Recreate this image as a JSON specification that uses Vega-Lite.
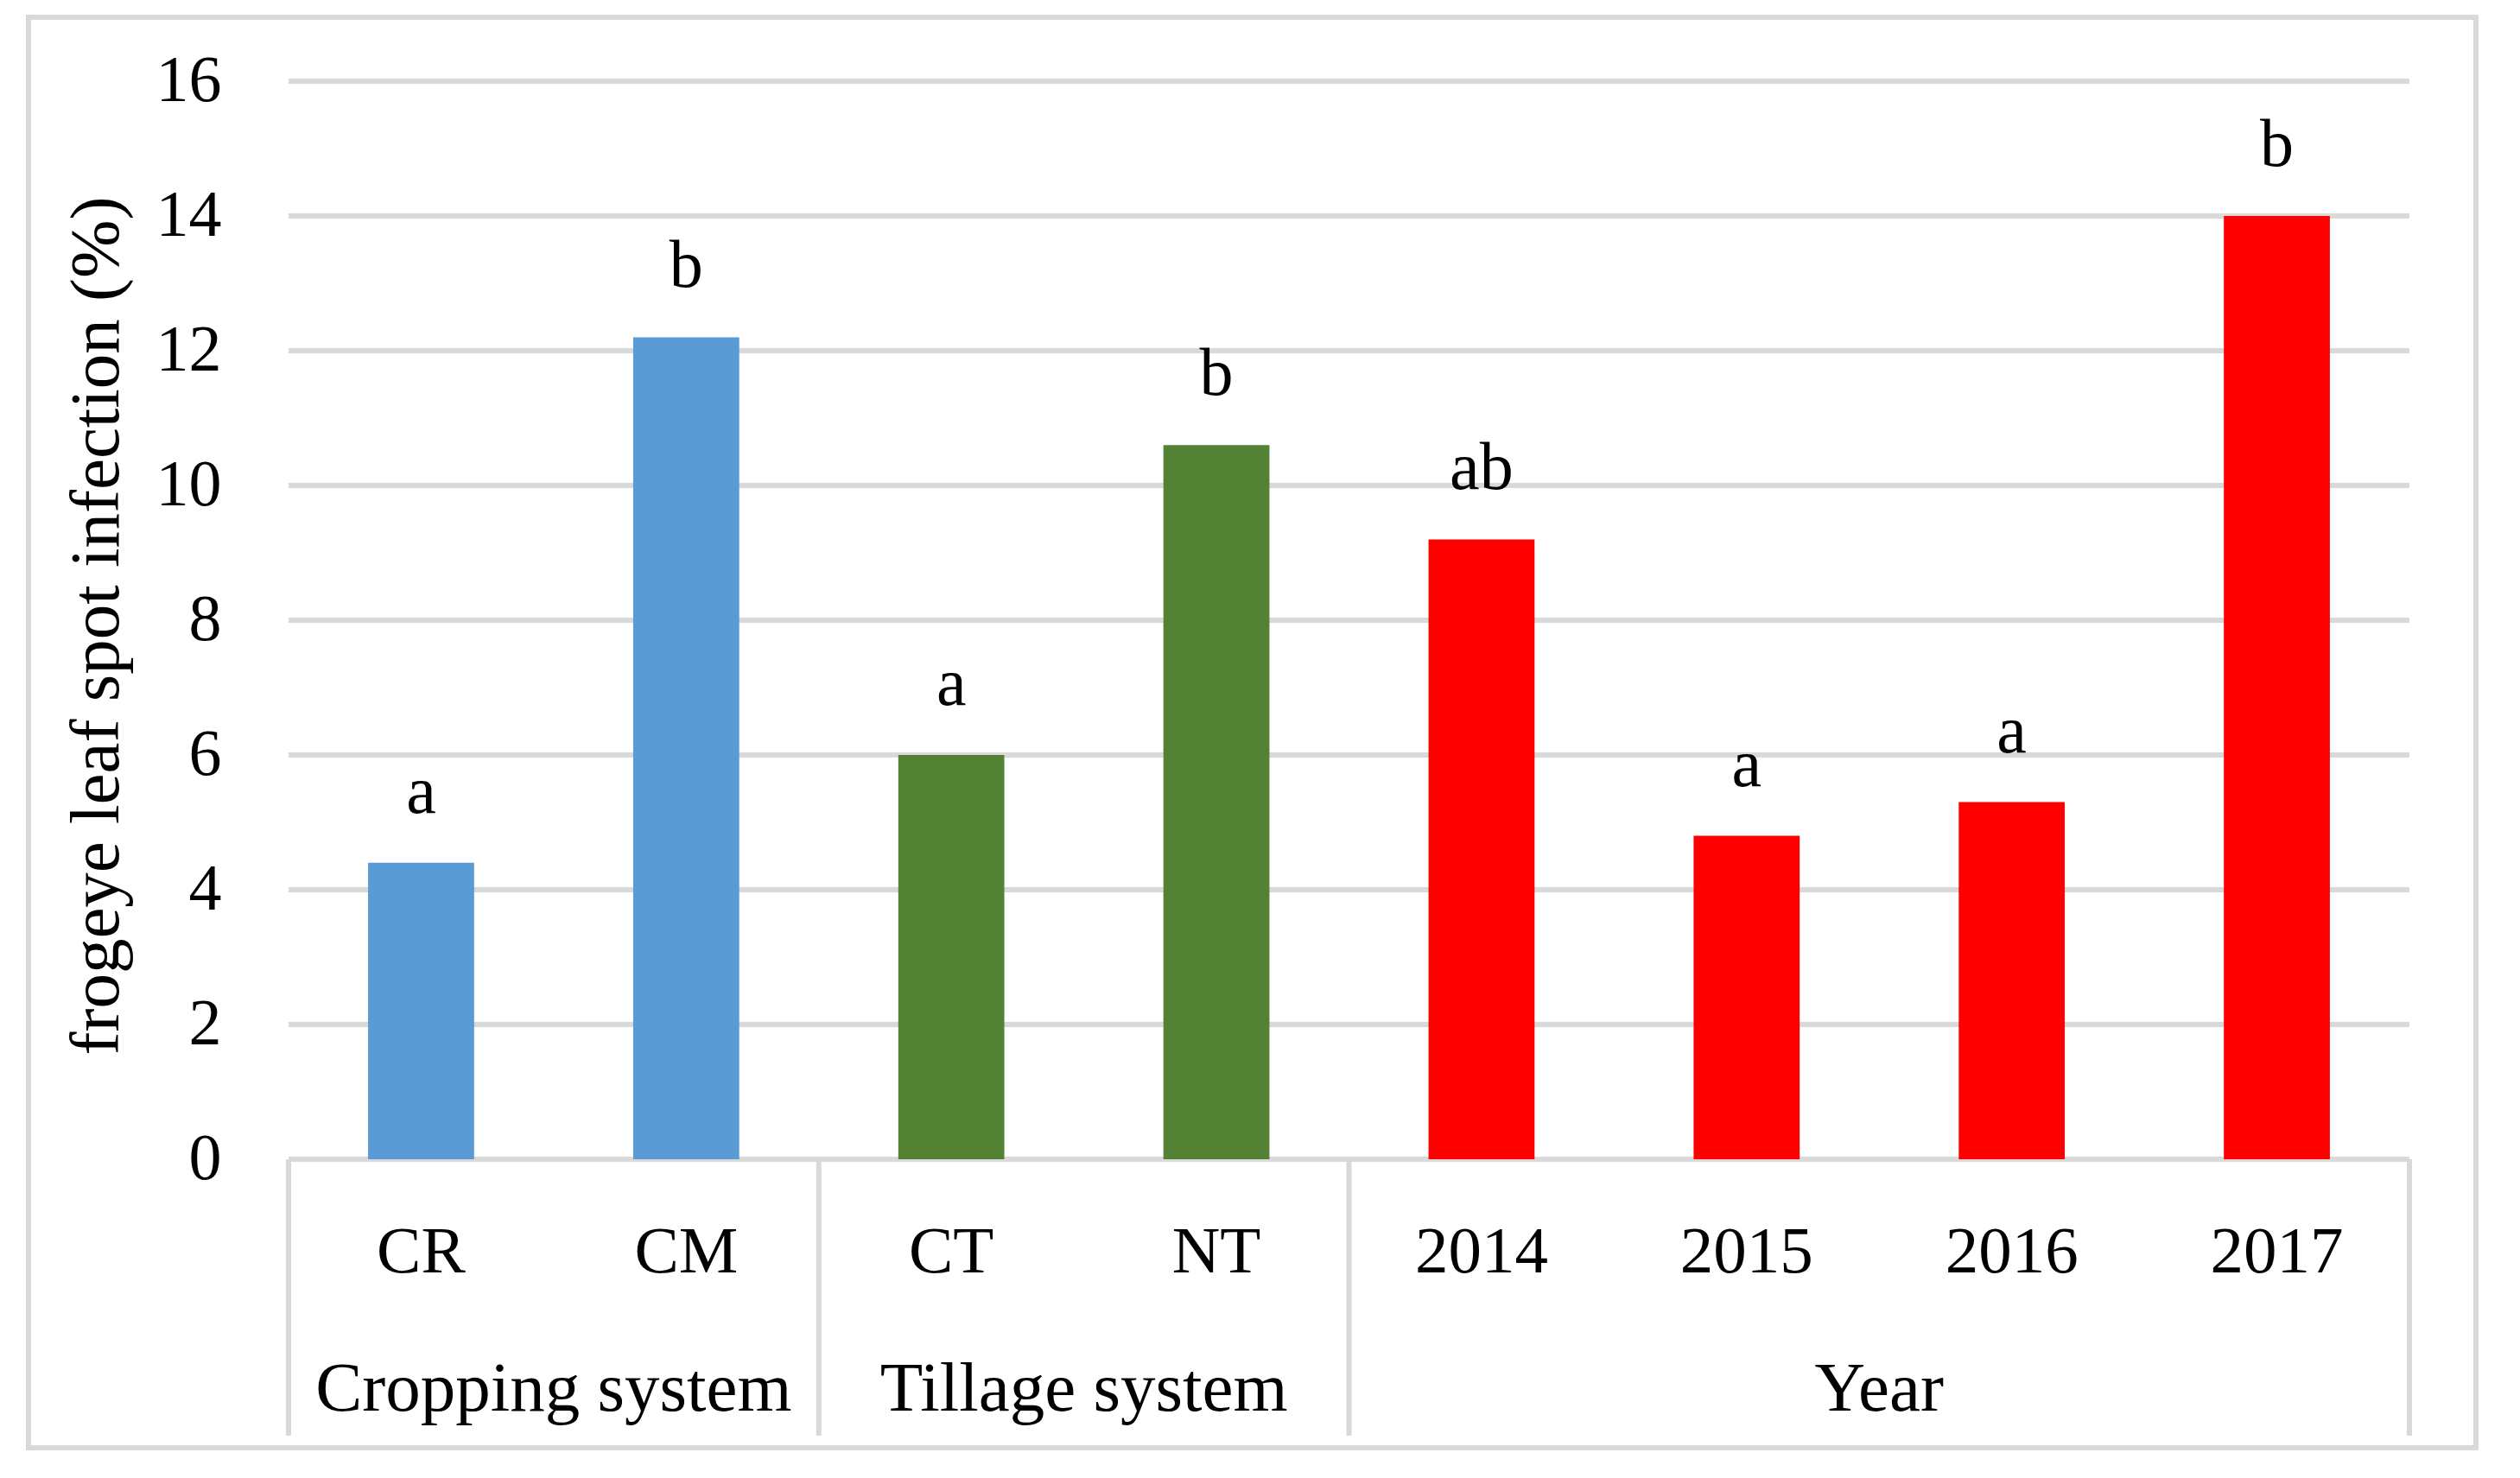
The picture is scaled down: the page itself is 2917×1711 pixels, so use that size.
{
  "$schema": "https://vega.github.io/schema/vega-lite/v6.json",
  "width": 2833,
  "height": 1656,
  "autosize": {"type": "none"},
  "padding": {"left": 33, "top": 20, "right": 51, "bottom": 35},
  "background": "white",
  "config": {
    "view": {"stroke": "#D9D9D9", "strokeWidth": 6},
    "font": "Liberation Serif",
    "text": {"font": "Liberation Serif", "fontSize": 76, "color": "black"}
  },
  "datasets": {
    "bars": [
      {"cat": "CR", "group": "Cropping system", "value": 4.4, "letter": "a"},
      {"cat": "CM", "group": "Cropping system", "value": 12.2, "letter": "b"},
      {"cat": "CT", "group": "Tillage system", "value": 6.0, "letter": "a"},
      {"cat": "NT", "group": "Tillage system", "value": 10.6, "letter": "b"},
      {"cat": "2014", "group": "Year", "value": 9.2, "letter": "ab"},
      {"cat": "2015", "group": "Year", "value": 4.8, "letter": "a"},
      {"cat": "2016", "group": "Year", "value": 5.3, "letter": "a"},
      {"cat": "2017", "group": "Year", "value": 14.0, "letter": "b"}
    ],
    "groups": [
      {"group": "Cropping system", "first": "CR", "anchor": "CM", "last": "CM"},
      {"group": "Tillage system", "first": "CT", "anchor": "NT", "last": "NT"},
      {"group": "Year", "first": "2014", "anchor": "2016", "last": "2017"}
    ],
    "grid": [
      {"tick": 0}, {"tick": 2}, {"tick": 4}, {"tick": 6}, {"tick": 8},
      {"tick": 10}, {"tick": 12}, {"tick": 14}, {"tick": 16}
    ]
  },
  "layer": [
    {
      "data": {"name": "grid"},
      "mark": {"type": "rule", "color": "#D9D9D9", "strokeWidth": 6},
      "encoding": {
        "x": {"datum": 0, "type": "quantitative", "scale": {"domain": [-0.98086, 8.25092], "nice": false, "zero": false}, "axis": null},
        "x2": {"datum": 8},
        "y": {
          "field": "tick", "type": "quantitative",
          "scale": {"domain": [-4.2821, 16.9487], "nice": false, "zero": false},
          "axis": {
            "orient": "left", "offset": -223, "domain": false, "ticks": false, "grid": false,
            "values": [0, 2, 4, 6, 8, 10, 12, 14, 16],
            "labelPadding": 0, "labelFont": "Liberation Serif", "labelFontSize": 76, "labelColor": "black",
            "labelAlign": "right", "labelBaseline": "middle", "labelOverlap": false, "labelBound": false, "labelFlush": false,
            "title": "frogeye leaf spot infection (%)",
            "titleFont": "Liberation Serif", "titleFontSize": 81, "titleFontWeight": "normal", "titleColor": "black",
            "titleAngle": -90, "titleAlign": "center", "titleBaseline": "alphabetic",
            "titleX": -120, "titleY": 704
          }
        }
      }
    },
    {
      "data": {"name": "bars"},
      "mark": {"type": "bar"},
      "encoding": {
        "x": {"field": "cat", "type": "nominal", "scale": {"type": "band", "domain": ["CR", "CM", "CT", "NT", "2014", "2015", "2016", "2017"], "paddingInner": 0.6, "paddingOuter": 0.9159, "align": 0.69924}, "axis": null},
        "y": {"field": "value", "type": "quantitative", "scale": {"domain": [-4.2821, 16.9487], "nice": false, "zero": false}, "axis": null},
        "y2": {"datum": 0},
        "color": {"field": "group", "type": "nominal", "scale": {"domain": ["Cropping system", "Tillage system", "Year"], "range": ["#5B9BD5", "#548235", "#FF0000"]}, "legend": null}
      }
    },
    {
      "data": {"name": "groups"},
      "mark": {"type": "rule", "color": "#D9D9D9", "strokeWidth": 6},
      "encoding": {
        "x": {"field": "first", "type": "nominal", "bandPosition": -0.75, "scale": {"type": "band", "domain": ["CR", "CM", "CT", "NT", "2014", "2015", "2016", "2017"], "paddingInner": 0.6, "paddingOuter": 0.9159, "align": 0.69924}, "axis": null},
        "y": {"datum": 0, "type": "quantitative", "scale": {"domain": [-4.2821, 16.9487], "nice": false, "zero": false}, "axis": null},
        "y2": {"datum": -4.1026}
      }
    },
    {
      "data": {"name": "groups"},
      "transform": [{"filter": "datum.group === 'Year'"}],
      "mark": {"type": "rule", "color": "#D9D9D9", "strokeWidth": 6},
      "encoding": {
        "x": {"field": "last", "type": "nominal", "bandPosition": 1.75, "scale": {"type": "band", "domain": ["CR", "CM", "CT", "NT", "2014", "2015", "2016", "2017"], "paddingInner": 0.6, "paddingOuter": 0.9159, "align": 0.69924}, "axis": null},
        "y": {"datum": 0, "type": "quantitative", "scale": {"domain": [-4.2821, 16.9487], "nice": false, "zero": false}, "axis": null},
        "y2": {"datum": -4.1026}
      }
    },
    {
      "data": {"name": "bars"},
      "mark": {"type": "text", "baseline": "alphabetic", "align": "center", "dy": -58, "fontSize": 78, "font": "Liberation Serif", "color": "black"},
      "encoding": {
        "x": {"field": "cat", "type": "nominal", "scale": {"type": "band", "domain": ["CR", "CM", "CT", "NT", "2014", "2015", "2016", "2017"], "paddingInner": 0.6, "paddingOuter": 0.9159, "align": 0.69924}, "axis": null},
        "y": {"field": "value", "type": "quantitative", "scale": {"domain": [-4.2821, 16.9487], "nice": false, "zero": false}, "axis": null},
        "text": {"field": "letter"}
      }
    },
    {
      "data": {"name": "bars"},
      "mark": {"type": "text", "baseline": "alphabetic", "align": "center", "fontSize": 77, "font": "Liberation Serif", "color": "black"},
      "encoding": {
        "x": {"field": "cat", "type": "nominal", "scale": {"type": "band", "domain": ["CR", "CM", "CT", "NT", "2014", "2015", "2016", "2017"], "paddingInner": 0.6, "paddingOuter": 0.9159, "align": 0.69924}, "axis": null},
        "y": {"datum": -1.6795, "type": "quantitative", "scale": {"domain": [-4.2821, 16.9487], "nice": false, "zero": false}, "axis": null},
        "text": {"field": "cat"}
      }
    },
    {
      "data": {"name": "groups"},
      "mark": {"type": "text", "baseline": "alphabetic", "align": "center", "fontSize": 81, "font": "Liberation Serif", "color": "black"},
      "encoding": {
        "x": {"field": "anchor", "type": "nominal", "bandPosition": -0.75, "scale": {"type": "band", "domain": ["CR", "CM", "CT", "NT", "2014", "2015", "2016", "2017"], "paddingInner": 0.6, "paddingOuter": 0.9159, "align": 0.69924}, "axis": null},
        "y": {"datum": -3.7308, "type": "quantitative", "scale": {"domain": [-4.2821, 16.9487], "nice": false, "zero": false}, "axis": null},
        "text": {"field": "group"}
      }
    }
  ],
  "resolve": {"scale": {"x": "independent"}, "axis": {"x": "independent", "y": "independent"}}
}
